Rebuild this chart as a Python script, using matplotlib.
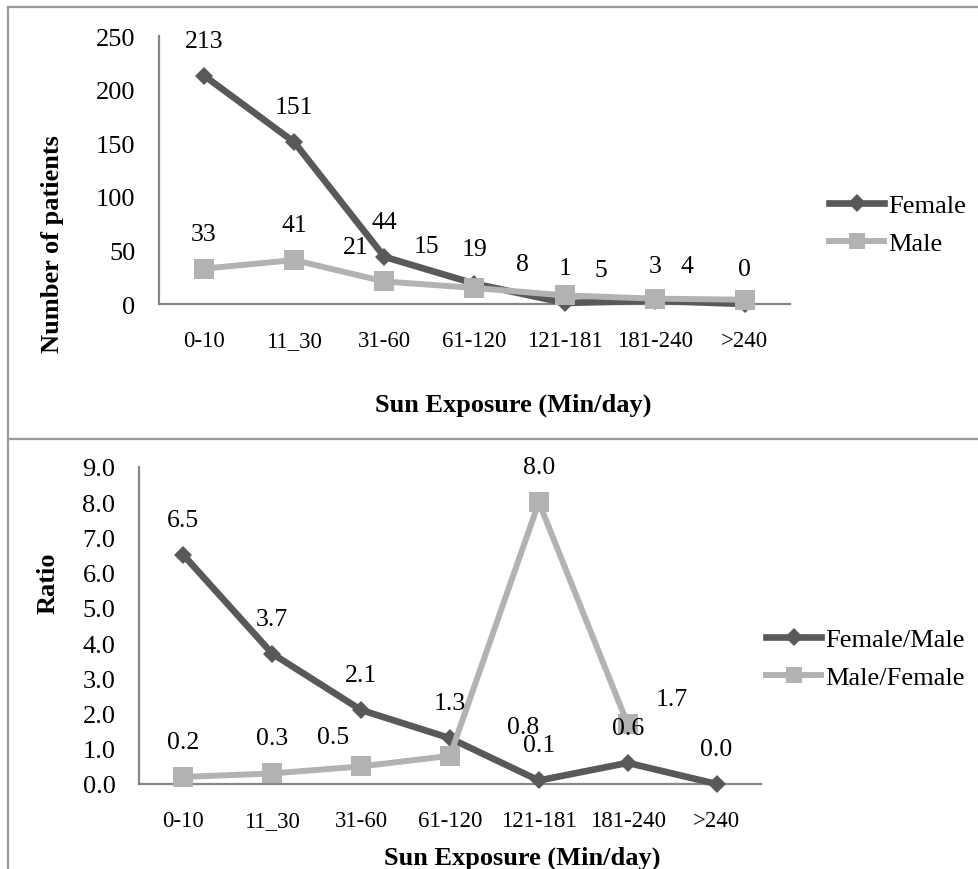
import numpy as np
import matplotlib
matplotlib.use("Agg")
import matplotlib.pyplot as plt
from matplotlib.lines import Line2D

# ============================= DATA =============================
categories = ["0-10", "11_30", "31-60", "61-120", "121-181", "181-240", ">240"]

female = [213, 151, 44, 19, 1, 3, 0]
male = [33, 41, 21, 15, 8, 5, 4]

female_male = [6.5, 3.7, 2.1, 1.3, 0.1, 0.6, 0.0]
male_female = [0.2, 0.3, 0.5, 0.8, 8.0, 1.7, np.nan]

# label offsets in pixels (dx, dy) - labels were dragged around in the original
female_off = [(0, 35)] * 7
male_off = [(0, 35), (0, 35), (-29, 34), (-48, 42), (-42, 31), (-54, 29), (-58, 34)]
fm_off = [(0, 35)] * 7
mf_off = [(0, 35), (0, 35), (-28, 29), (73, 29), (0, 35), (44, 25), (0, 35)]

# ============================= STYLE =============================
plt.rcParams["font.family"] = ["Liberation Serif", "DejaVu Serif"]
DARK = "#595959"
LIGHT = "#b2b2b2"
AXIS = "#868686"
FRAME = "#9a9a9a"

W, H = 979, 870
fig = plt.figure(figsize=(W / 100, H / 100), dpi=100)


def fx(px):
    return px / W


def fy(py):
    return 1 - py / H


def make_axes(left, right, top, bottom):
    return fig.add_axes([fx(left), fy(bottom), fx(right - left), (bottom - top) / H])


def style_axes(ax, ymax, step, fmt):
    x = np.arange(len(categories))
    ax.set_xlim(-0.5, len(categories) - 0.5)
    ax.set_ylim(0, ymax)
    ax.set_xticks(x)
    ax.set_xticklabels(categories, fontsize=16.5)
    ticks = np.arange(0, ymax + step / 2, step)
    ax.set_yticks(ticks)
    ax.set_yticklabels([fmt.format(t) for t in ticks], fontsize=19)
    ax.tick_params(axis="x", length=0, pad=19)
    ax.tick_params(axis="y", length=0, pad=17)
    for s in ["top", "right"]:
        ax.spines[s].set_visible(False)
    for s in ["left", "bottom"]:
        ax.spines[s].set_color(AXIS)
        ax.spines[s].set_linewidth(1.6)
    ax.patch.set_alpha(0)


def draw_series(ax, vals, color, marker, ms, lw, offsets, fmt, label):
    x = np.arange(len(vals))
    ax.plot(x, vals, color=color, lw=lw, marker=marker, ms=ms, mec=color,
            mew=0, label=label, clip_on=False, zorder=3)
    for xi, v, (dx, dy) in zip(x, vals, offsets):
        if np.isnan(v):
            continue
        ax.annotate(fmt.format(v), (xi, v), xytext=(dx, dy), textcoords="offset pixels",
                    ha="center", va="center", fontsize=18.5, color="black", zorder=5)


# ============================= TOP CHART =============================
ax1 = make_axes(159, 790, 37, 305)
style_axes(ax1, 250, 50, "{:.0f}")
draw_series(ax1, female, DARK, "D", 9.5, 4.8, female_off, "{:.0f}", "Female")
draw_series(ax1, male, LIGHT, "s", 14, 4.3, male_off, "{:.0f}", "Male")

fig.text(fx(513), fy(405), "Sun Exposure (Min/day)", ha="center", va="center",
         fontsize=19, fontweight="bold")
fig.text(fx(53), fy(244), "Number of patients", ha="center", va="center",
         rotation=90, fontsize=19, fontweight="bold")

h1 = [Line2D([], [], color=DARK, lw=4.8, marker="D", ms=9, mew=0),
      Line2D([], [], color=LIGHT, lw=4.3, marker="s", ms=12, mew=0)]
ax1.legend(h1, ["Female", "Male"], loc="center left",
           bbox_to_anchor=(fx(829), fy(225.5)), bbox_transform=fig.transFigure,
           frameon=False, fontsize=19, borderpad=0, borderaxespad=0,
           handlelength=2.1, handletextpad=0.15, labelspacing=0.55)

# ============================= BOTTOM CHART =============================
ax2 = make_axes(139, 761, 468, 785)
style_axes(ax2, 9, 1, "{:.1f}")
draw_series(ax2, female_male, DARK, "D", 9.5, 4.8, fm_off, "{:.1f}", "Female/Male")
draw_series(ax2, male_female, LIGHT, "s", 14, 4.3, mf_off, "{:.1f}", "Male/Female")

fig.text(fx(522), fy(858), "Sun Exposure (Min/day)", ha="center", va="center",
         fontsize=19, fontweight="bold")
fig.text(fx(48), fy(583), "Ratio", ha="center", va="center",
         rotation=90, fontsize=19, fontweight="bold")

ax2.legend(h1, ["Female/Male", "Male/Female"], loc="center left",
           bbox_to_anchor=(fx(766), fy(659.5)), bbox_transform=fig.transFigure,
           frameon=False, fontsize=19, borderpad=0, borderaxespad=0,
           handlelength=2.1, handletextpad=0.15, labelspacing=0.55)

# ============================= FRAME =============================
fig.add_artist(Line2D([fx(8), 1], [fy(8), fy(8)], color=FRAME, lw=1.6))
fig.add_artist(Line2D([fx(8), 1], [fy(440), fy(440)], color=FRAME, lw=1.6))
fig.add_artist(Line2D([fx(8), fx(8)], [fy(8), 0], color=FRAME, lw=1.6))

fig.savefig("out.png", dpi=100)
